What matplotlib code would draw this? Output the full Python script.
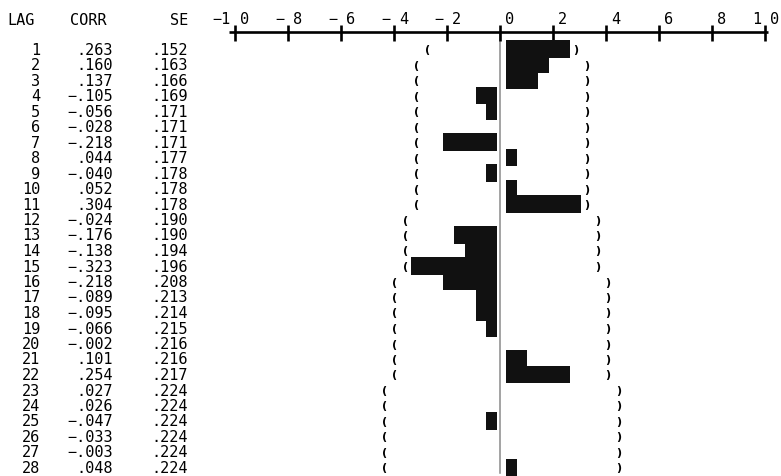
"""
Old line-printer style autocorrelation listing: LAG / CORR / SE table
with a character-cell bar chart and +-2 SE bounds shown as ( and ).
"""

import math
import matplotlib
matplotlib.use("Agg")
import matplotlib.pyplot as plt

# ── Data ──────────────────────────────────────────────────────────────────────
LAG = list(range(1, 29))
CORR = [.263, .160, .137, -.105, -.056, -.028, -.218, .044, -.040, .052,
        .304, -.024, -.176, -.138, -.323, -.218, -.089, -.095, -.066, -.002,
        .101, .254, .027, .026, -.047, -.033, -.003, .048]
SE = [.152, .163, .166, .169, .171, .171, .171, .177, .178, .178,
      .178, .190, .190, .194, .196, .208, .213, .214, .215, .216,
      .216, .217, .224, .224, .224, .224, .224, .224]
TICKS = [-1.0, -0.8, -0.6, -0.4, -0.2, 0.0, 0.2, 0.4, 0.6, 0.8, 1.0]

# ── Layout (pixel frame of the 781x477 picture) ───────────────────────────────
W, H = 781, 477
X0, XSCALE = 500, 265        # pixel of r=0, pixels per unit r
Y0, YSTEP = 50, 15.5         # pixel of lag 1, pixels per lag
STEP = 0.04                  # printer cell in correlation units
CELL_W = 0.0405              # drawn width of one cell
POS_START = 6 / XSCALE       # bars start a little right of zero
NEG_END = -3 / XSCALE        # and end a little left of it

FONT = "DejaVu Sans Mono"
FS = 11


def xd(px):
    return (px - X0) / XSCALE


def yd(py):
    return 1 + (py - Y0) / YSTEP


def fmt(v):
    return ("\u2212" if v < 0 else "") + f"{abs(v):.3f}"[1:]


fig = plt.figure(figsize=(W / 100, H / 100), dpi=100)
ax = fig.add_axes([0, 0, 1, 1])
ax.set_xlim(xd(0), xd(W))
ax.set_ylim(yd(H), yd(0))
ax.axis("off")

# ── Header ────────────────────────────────────────────────────────────────────
hy = yd(20)
ax.text(xd(7), hy, "LAG", ha="left", va="center", fontsize=FS, family=FONT)
ax.text(xd(70), hy, "CORR", ha="left", va="center", fontsize=FS, family=FONT)
ax.text(xd(188), hy, "SE", ha="right", va="center", fontsize=FS, family=FONT)

# ── Horizontal scale with the tick replacing the decimal point ────────────────
ay = yd(33)
ax.plot([xd(229), xd(768)], [ay, ay], color="black", lw=1.9, solid_capstyle="butt")
for t in TICKS:
    ax.plot([t, t], [yd(26), yd(42)], color="black", lw=1.9, solid_capstyle="butt")
    s = f"{abs(t):.1f}"
    ip, dp = s.split(".")
    left = ("\u2212" if t < 0 else "") + (ip if ip != "0" else "")
    if left:
        ax.text(t - xd(X0 + 4), yd(19), left, ha="right", va="center",
                fontsize=FS, family=FONT)
    ax.text(t + xd(X0 + 5), yd(19), dp, ha="left", va="center",
            fontsize=FS, family=FONT)

# zero reference line
ax.plot([0, 0], [ay, yd(474)], color="#8a8a8a", lw=1.1, zorder=1)

# ── Table and bars ────────────────────────────────────────────────────────────
for lag, r, se in zip(LAG, CORR, SE):
    ax.text(xd(40), lag, str(lag), ha="right", va="center", fontsize=FS, family=FONT)
    ax.text(xd(113), lag, fmt(r), ha="right", va="center", fontsize=FS, family=FONT)
    ax.text(xd(188), lag, fmt(se), ha="right", va="center", fontsize=FS, family=FONT)

    n = math.floor(abs(r) / STEP + 1e-9)
    if n > 0:
        if r > 0:
            ax.barh(lag, n * CELL_W, left=POS_START, height=1.12,
                    color="#111111", zorder=2)
        else:
            ax.barh(lag, n * CELL_W, left=NEG_END - n * CELL_W, height=1.12,
                    color="#111111", zorder=2)

    k = math.floor(2 * se / STEP + 1e-9)
    ax.text(NEG_END - (k - 0.5) * CELL_W, lag, "(", ha="center", va="center",
            fontsize=8, fontweight="bold", family="DejaVu Sans")
    ax.text(POS_START + (k - 0.5) * CELL_W, lag, ")", ha="center", va="center",
            fontsize=8, fontweight="bold", family="DejaVu Sans")

fig.savefig("out.png", dpi=100)
